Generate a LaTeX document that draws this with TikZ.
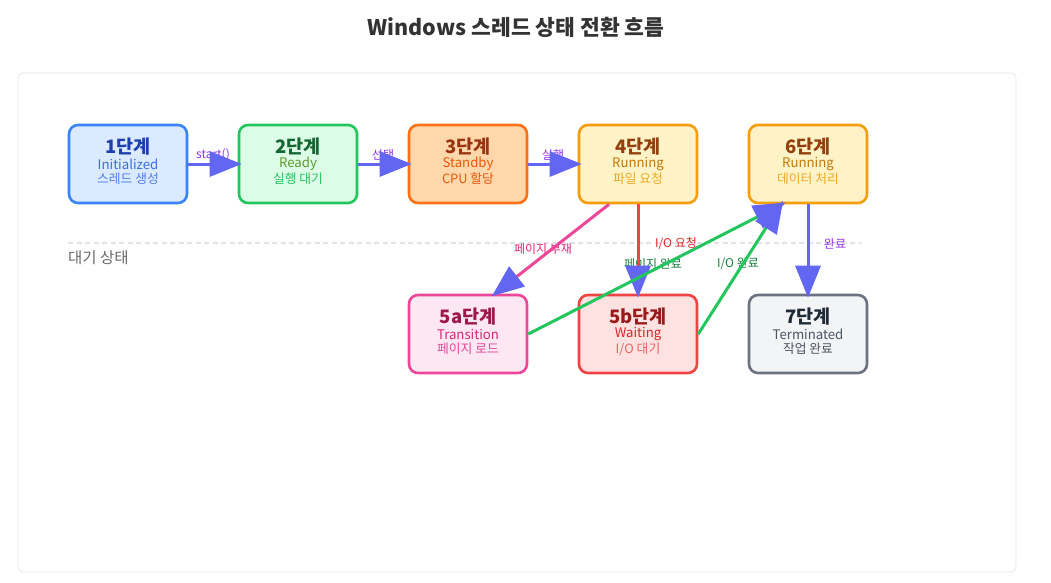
\documentclass[tikz,border=0pt]{standalone}
\usepackage{fontspec}
\setmainfont{Noto Sans CJK KR}
\usetikzlibrary{arrows.meta,calc}
\definecolor{tcol}{HTML}{333333}
\definecolor{arr}{HTML}{6366F1}
\definecolor{lblpurple}{HTML}{9333EA}
\definecolor{lblpink}{HTML}{DB2777}
\definecolor{lblred}{HTML}{DC2626}
\definecolor{lblgreen}{HTML}{15803D}
\definecolor{linepink}{HTML}{EC4899}
\definecolor{linered}{HTML}{EF4444}
\definecolor{linegreen}{HTML}{22C55E}
\definecolor{dashcol}{HTML}{E2E2E6}
\definecolor{panelb}{HTML}{E5E7EB}
\definecolor{graytxt}{HTML}{6B6B6B}
% stage colours
\definecolor{fA}{HTML}{DBEAFE}\definecolor{bA}{HTML}{3B82F6}\definecolor{tA}{HTML}{1E40AF}\definecolor{sA}{HTML}{3B6FE0}\definecolor{uA}{HTML}{4F7FE8}
\definecolor{fB}{HTML}{DCFCE7}\definecolor{bB}{HTML}{22C55E}\definecolor{tB}{HTML}{166534}\definecolor{sB}{HTML}{5E9A2E}\definecolor{uB}{HTML}{22C55E}
\definecolor{fC}{HTML}{FED7AA}\definecolor{bC}{HTML}{F97316}\definecolor{tC}{HTML}{9A3412}\definecolor{sC}{HTML}{EA580C}\definecolor{uC}{HTML}{EA580C}
\definecolor{fD}{HTML}{FEF3C7}\definecolor{bD}{HTML}{F59E0B}\definecolor{tD}{HTML}{92400E}\definecolor{sD}{HTML}{C2790A}\definecolor{uD}{HTML}{F0A820}
\definecolor{fE}{HTML}{FCE7F3}\definecolor{bE}{HTML}{EC4899}\definecolor{tE}{HTML}{9D174D}\definecolor{sE}{HTML}{DB2777}\definecolor{uE}{HTML}{E04A9A}
\definecolor{fF}{HTML}{FEE2E2}\definecolor{bF}{HTML}{EF4444}\definecolor{tF}{HTML}{991B1B}\definecolor{sF}{HTML}{DC2626}\definecolor{uF}{HTML}{F06060}
\definecolor{fG}{HTML}{F3F4F6}\definecolor{bG}{HTML}{6B7280}\definecolor{tG}{HTML}{1F2937}\definecolor{sG}{HTML}{4B5563}\definecolor{uG}{HTML}{4B5563}
\tikzset{
  stagebox/.style={draw, line width=2.6pt, rounded corners=9pt, minimum width=118pt, minimum height=78pt, inner sep=0pt},
  ttl/.style={font=\fontsize{18.5}{20}\selectfont\bfseries, inner sep=0pt},
  sub/.style={font=\fontsize{13.2}{15}\selectfont, inner sep=0pt},
  subb/.style={font=\fontsize{12.8}{14}\selectfont, inner sep=0pt},
  elbl/.style={font=\fontsize{12}{14}\selectfont, inner sep=0pt},
  conn/.style={line width=3pt, -{Triangle[length=32pt,width=25pt,color=arr]}, shorten >=-4pt},
}
\newcommand\mkstage[9]{%
  \node[stagebox, fill=f#9, draw=b#9] (#1) at (#2,#3) {};
  \node[ttl, text=t#9] (#1t) at ([yshift=17pt]#1.center) {#4};
  \node[sub, text=s#9] (#1s) at (#1.center) {#5};
  \node[subb, text=u#9] (#1u) at ([yshift=-15pt]#1.center) {#6};
}
\begin{document}
\begin{tikzpicture}[x=1pt,y=-1pt]
\useasboundingbox (0,0) rectangle (1051,582);
\fill[white] (0,0) rectangle (1051,582);
\node[font=\fontsize{21.5}{24}\selectfont\bfseries, text=tcol] (title) at (516,27) {Windows 스레드 상태 전환 흐름};
\draw[panelb, line width=0.8pt, rounded corners=5pt, fill=white] (18,73) rectangle (1016,572);
\coordinate (dl) at (68,243);
\coordinate (dr) at (862,243);
\draw[dashcol, line width=1.8pt, dash pattern=on 5pt off 3.5pt] (dl) -- (dr);
\node[font=\fontsize{15.5}{17}\selectfont, text=graytxt, anchor=west, inner sep=0pt] (wait) at (68,258) {대기 상태};

\mkstage{n1}{128}{164}{1단계}{Initialized}{스레드 생성}{}{}{A}
\mkstage{n2}{298}{164}{2단계}{Ready}{실행 대기}{}{}{B}
\mkstage{n3}{468}{164}{3단계}{Standby}{CPU 할당}{}{}{C}
\mkstage{n4}{638}{164}{4단계}{Running}{파일 요청}{}{}{D}
\mkstage{n6}{808}{164}{6단계}{Running}{데이터 처리}{}{}{D}
\mkstage{n5a}{468}{334}{5a단계}{Transition}{페이지 로드}{}{}{E}
\mkstage{n5b}{638}{334}{5b단계}{Waiting}{I/O 대기}{}{}{F}
\mkstage{n7}{808}{334}{7단계}{Terminated}{작업 완료}{}{}{G}

% labels
\node[elbl, text=lblpurple] (l12) at (213,155) {start()};
\node[elbl, text=lblpurple] (l23) at (383,155) {선택};
\node[elbl, text=lblpurple] (l34) at (553,155) {실행};
\node[elbl, text=lblpink] (l45a) at (543,249) {페이지 부재};
\node[elbl, text=lblred] (l45b) at (676,244) {I/O 요청};
\node[elbl, text=lblgreen] (l5a6) at (653,264) {페이지 완료};
\node[elbl, text=lblgreen] (l5b6) at (738,264) {I/O 완료};
\node[elbl, text=lblpurple] (l67) at (835,244) {완료};

% connectors
\draw[conn, arr] (n1) -- (n2);
\draw[conn, arr] (n2) -- (n3);
\draw[conn, arr] (n3) -- (n4);
\draw[conn, linepink] ([xshift=-29pt]n4.south) -- ([xshift=27pt]n5a.north);
\draw[conn, linered] (n4) -- (n5b);
\draw[conn, linegreen] (n5a.east) -- ([xshift=-26pt]n6.south);
\draw[conn, linegreen] (n5b.east) -- ([xshift=-27pt]n6.south);
\draw[conn, arr] (n6) -- (n7);
\end{tikzpicture}
\end{document}
